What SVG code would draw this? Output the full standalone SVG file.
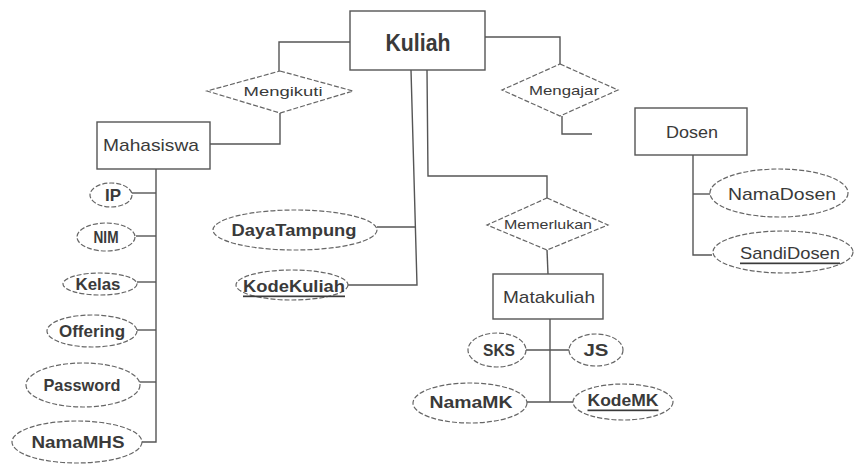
<svg xmlns="http://www.w3.org/2000/svg" width="855" height="466" viewBox="0 0 855 466">
  <style>
    .ent { fill: #fff; stroke: #555; stroke-width: 1.4; }
    .rel { fill: #fff; stroke: #666; stroke-width: 1.2; stroke-dasharray: 5 2; }
    .att { fill: #fff; stroke: #666; stroke-width: 1.2; stroke-dasharray: 5 2; }
    .lnk { fill: none; stroke: #555; stroke-width: 1.4; }
    text { font-family: "Liberation Sans", Arial, sans-serif; fill: #3a3a3a; text-anchor: middle; dominant-baseline: central; }
    .big { font-size: 24px; font-weight: bold; }
    .en { font-size: 17px; }
    .rl { font-size: 13px; }
    .at { font-size: 17px; font-weight: bold; }
    .key { text-decoration: underline; }
  </style>
  <rect width="855" height="466" fill="#fff"/>

  <!-- connectors -->
  <g id="connectors">
    <polyline class="lnk" points="350,42 279,42 279,71"/>
    <polyline class="lnk" points="280,113 280,144 210,144"/>
    <polyline class="lnk" points="485,37 560,37 560,64"/>
    <polyline class="lnk" points="562,116 562,134 592,134"/>
    <polyline class="lnk" points="411,70 417,285 348,285"/>
    <line class="lnk" x1="377" y1="227" x2="416" y2="227"/>
    <polyline class="lnk" points="427,70 428,176 547,176 547,198"/>
    <line class="lnk" x1="547" y1="250" x2="548" y2="274"/>
    <line class="lnk" x1="550" y1="319" x2="550" y2="402"/>
    <line class="lnk" x1="526" y1="350" x2="570" y2="350"/>
    <line class="lnk" x1="527" y1="402" x2="573" y2="402"/>
    <polyline class="lnk" points="156,169 156,442 142,442"/>
    <line class="lnk" x1="132" y1="193" x2="156" y2="193"/>
    <line class="lnk" x1="136" y1="236" x2="156" y2="236"/>
    <line class="lnk" x1="137" y1="282" x2="156" y2="282"/>
    <line class="lnk" x1="137" y1="330" x2="156" y2="330"/>
    <line class="lnk" x1="139" y1="382" x2="156" y2="382"/>
    <polyline class="lnk" points="693,155 693,255 712,255"/>
    <line class="lnk" x1="693" y1="194" x2="710" y2="194"/>
  </g>

  <!-- entities -->
  <g id="kuliah">
    <rect class="ent" x="350" y="11" width="135" height="59"/>
    <text class="big" x="418" y="42" textLength="65" lengthAdjust="spacingAndGlyphs">Kuliah</text>
  </g>
  <g id="mahasiswa">
    <rect class="ent" x="97" y="122" width="113" height="47"/>
    <text class="en" x="151" y="145" textLength="96" lengthAdjust="spacingAndGlyphs">Mahasiswa</text>
  </g>
  <g id="dosen">
    <rect class="ent" x="635" y="108" width="112" height="47"/>
    <text class="en" x="692" y="132" textLength="52" lengthAdjust="spacingAndGlyphs">Dosen</text>
  </g>
  <g id="matakuliah">
    <rect class="ent" x="493" y="274" width="110" height="45"/>
    <text class="en" x="549" y="297" textLength="92" lengthAdjust="spacingAndGlyphs">Matakuliah</text>
  </g>

  <!-- relationships -->
  <g id="mengikuti">
    <polygon class="rel" points="280,71 353,91 280,113 207,91"/>
    <text class="rl" x="283" y="91" textLength="79" lengthAdjust="spacingAndGlyphs">Mengikuti</text>
  </g>
  <g id="mengajar">
    <polygon class="rel" points="560,64 618,90 560,116 502,90"/>
    <text class="rl" x="564" y="90" textLength="70" lengthAdjust="spacingAndGlyphs">Mengajar</text>
  </g>
  <g id="memerlukan">
    <polygon class="rel" points="547,198 608,225 547,250 487,225"/>
    <text class="rl" x="548" y="224" textLength="88" lengthAdjust="spacingAndGlyphs">Memerlukan</text>
  </g>

  <!-- attributes of Mahasiswa -->
  <g id="ip">
    <ellipse class="att" cx="111" cy="195" rx="21" ry="12"/>
    <text class="at" x="113" y="195" textLength="16" lengthAdjust="spacingAndGlyphs">IP</text>
  </g>
  <g id="nim">
    <ellipse class="att" cx="106" cy="237" rx="29" ry="14"/>
    <text class="at" x="106" y="237" textLength="25" lengthAdjust="spacingAndGlyphs">NIM</text>
  </g>
  <g id="kelas">
    <ellipse class="att" cx="100" cy="284" rx="37" ry="11"/>
    <text class="at" x="98" y="284" textLength="45" lengthAdjust="spacingAndGlyphs">Kelas</text>
  </g>
  <g id="offering">
    <ellipse class="att" cx="92" cy="331" rx="45" ry="16"/>
    <text class="at" x="92" y="331" textLength="66" lengthAdjust="spacingAndGlyphs">Offering</text>
  </g>
  <g id="password">
    <ellipse class="att" cx="83" cy="385" rx="57" ry="22"/>
    <text class="at" x="82" y="385" textLength="77" lengthAdjust="spacingAndGlyphs">Password</text>
  </g>
  <g id="namamhs">
    <ellipse class="att" cx="77" cy="442" rx="65" ry="21"/>
    <text class="at" x="78" y="442" textLength="93" lengthAdjust="spacingAndGlyphs">NamaMHS</text>
  </g>

  <!-- attributes of Kuliah -->
  <g id="dayatampung">
    <ellipse class="att" cx="295" cy="230" rx="82" ry="20"/>
    <text class="at" x="294" y="230" textLength="125" lengthAdjust="spacingAndGlyphs">DayaTampung</text>
  </g>
  <g id="kodekuliah">
    <ellipse class="att" cx="292" cy="285" rx="56" ry="15"/>
    <text class="at key" x="294" y="286" textLength="102" lengthAdjust="spacingAndGlyphs">KodeKuliah</text>
  </g>

  <!-- attributes of Matakuliah -->
  <g id="sks">
    <ellipse class="att" cx="497" cy="350" rx="29" ry="17"/>
    <text class="at" x="499" y="350" textLength="32" lengthAdjust="spacingAndGlyphs">SKS</text>
  </g>
  <g id="js">
    <ellipse class="att" cx="596" cy="350" rx="27" ry="16"/>
    <text class="at" x="596" y="350" textLength="25" lengthAdjust="spacingAndGlyphs">JS</text>
  </g>
  <g id="namamk">
    <ellipse class="att" cx="470" cy="403" rx="57" ry="20"/>
    <text class="at" x="471" y="402" textLength="83" lengthAdjust="spacingAndGlyphs">NamaMK</text>
  </g>
  <g id="kodemk">
    <ellipse class="att" cx="623" cy="402" rx="50" ry="18"/>
    <text class="at key" x="623" y="400" textLength="71" lengthAdjust="spacingAndGlyphs">KodeMK</text>
  </g>

  <!-- attributes of Dosen -->
  <g id="namadosen">
    <ellipse class="att" cx="779" cy="193" rx="69" ry="24"/>
    <text class="en" x="782" y="194" textLength="108" lengthAdjust="spacingAndGlyphs">NamaDosen</text>
  </g>
  <g id="sandidosen">
    <ellipse class="att" cx="783" cy="252" rx="70" ry="21"/>
    <text class="en key" x="790" y="253" textLength="100" lengthAdjust="spacingAndGlyphs">SandiDosen</text>
  </g>
</svg>
